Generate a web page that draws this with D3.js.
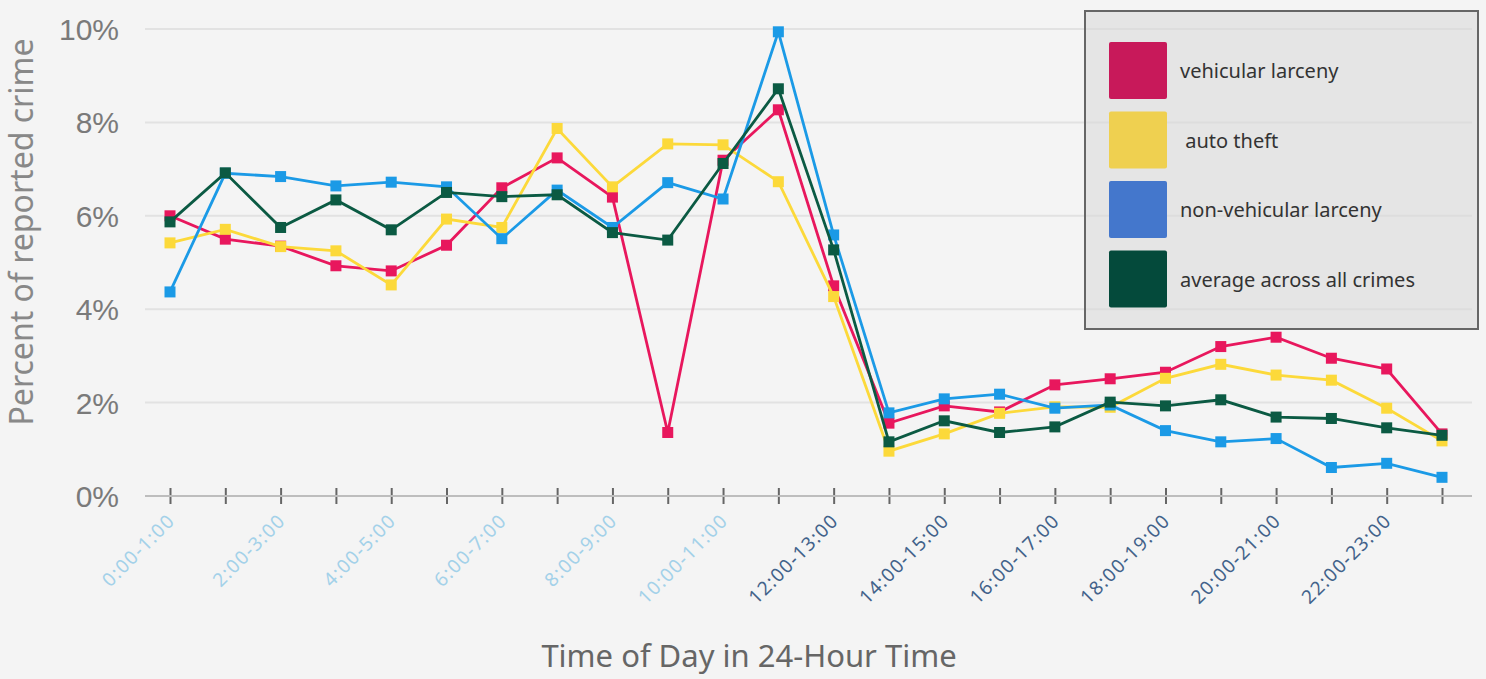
<!DOCTYPE html>
<html>
<head>
<meta charset="utf-8">
<script src="https://cdn.jsdelivr.net/npm/d3@7"></script>
<style>
  html, body { margin: 0; padding: 0; background: #f4f4f4; }
  svg { display: block; font-family: "Noto Sans", "Open Sans", sans-serif; }
</style>
</head>
<body>
<div id="chart"></div>
<script>
// hour slots, one per tick
const hours = d3.range(24).map((h) => h + ":00-" + (h + 1) + ":00");
const labelHours = hours.filter((d, i) => i % 2 === 0);
const yTicks = [0, 2, 4, 6, 8, 10];

const vehicularLarceny = [6.0, 5.5, 5.35, 4.93, 4.82, 5.37, 6.6, 7.24, 6.4, 1.36, 7.19, 8.27,
  4.5, 1.56, 1.93, 1.8, 2.38, 2.51, 2.65, 3.2, 3.4, 2.95, 2.72, 1.33];
const autoTheft = [5.42, 5.71, 5.34, 5.25, 4.52, 5.93, 5.75, 7.87, 6.62, 7.54, 7.52, 6.73,
  4.27, 0.96, 1.33, 1.77, 1.91, 1.9, 2.52, 2.82, 2.59, 2.48, 1.88, 1.18];
const nonVehicularLarceny = [4.37, 6.91, 6.84, 6.64, 6.72, 6.62, 5.51, 6.55, 5.75, 6.71, 6.36, 9.94,
  5.59, 1.78, 2.08, 2.18, 1.88, 1.95, 1.4, 1.16, 1.23, 0.61, 0.7, 0.4];
const averageAllCrimes = [5.87, 6.92, 5.75, 6.34, 5.7, 6.5, 6.41, 6.45, 5.64, 5.48, 7.12, 8.72,
  5.27, 1.16, 1.61, 1.36, 1.48, 2.01, 1.93, 2.06, 1.69, 1.66, 1.46, 1.3];

const seriesNames = ["vehicular larceny", " auto theft", "non-vehicular larceny", "average across all crimes"];
const lineColors = ["#e8175d", "#fcd93a", "#1b9ae6", "#0b5a43"];
const swatchColors = ["#c8195a", "#efd050", "#4477cc", "#044a3b"];

const width = 1486;
const height = 679;

const series = [vehicularLarceny, autoTheft, nonVehicularLarceny, averageAllCrimes];

const svg = d3.select("#chart").append("svg")
  .attr("width", width)
  .attr("height", height);

svg.append("rect").attr("width", width).attr("height", height).attr("fill", "#f4f4f4");

const x = d3.scalePoint().domain(hours).range([170, 1442]);
const y = d3.scaleLinear().domain([0, 10]).range([496, 29]);

// gridlines
svg.append("g")
  .selectAll("line")
  .data(yTicks.filter((d) => d > 0))
  .join("line")
  .attr("x1", 145)
  .attr("x2", 1472)
  .attr("y1", (d) => y(d))
  .attr("y2", (d) => y(d))
  .attr("stroke", "#e2e2e2")
  .attr("stroke-width", 2);

// y axis labels
const yAxis = svg.append("g")
  .attr("transform", "translate(119,0)")
  .call(d3.axisLeft(y).tickValues(yTicks).tickFormat((d) => d + "%").tickSize(0).tickPadding(0));
yAxis.select(".domain").remove();
yAxis.selectAll("text")
  .attr("fill", "#7a7a7a")
  .style("font-size", "30px")
  .attr("dy", "0.35em");

// x axis
const xAxis = svg.append("g")
  .attr("transform", "translate(0,496)")
  .call(d3.axisBottom(x).tickSize(0).tickFormat(""));
xAxis.select(".domain").remove();
xAxis.append("line")
  .attr("x1", 145)
  .attr("x2", 1472)
  .attr("stroke", "#bdbdbd")
  .attr("stroke-width", 2);
xAxis.selectAll(".tick").append("line")
  .attr("y1", -8)
  .attr("y2", 8)
  .attr("stroke", "#666")
  .attr("stroke-width", 2);

svg.append("g")
  .selectAll("text")
  .data(labelHours)
  .join("text")
  .attr("transform", (d) => "translate(" + (x(d) + 6) + ",522) rotate(-45)")
  .attr("text-anchor", "end")
  .attr("fill", (d, i) => (i < 6 ? "#a3d1e9" : "#42628a"))
  .style("font-size", "19px")
  .style("letter-spacing", "1.3px")
  .text((d) => d);

// axis titles
svg.append("text")
  .attr("transform", "translate(33,232) rotate(-90)")
  .attr("text-anchor", "middle")
  .attr("fill", "#888")
  .style("font-size", "32px")
  .text("Percent of reported crime");

svg.append("text")
  .attr("x", 749)
  .attr("y", 667)
  .attr("text-anchor", "middle")
  .attr("fill", "#666")
  .style("font-size", "31px")
  .text("Time of Day in 24-Hour Time");

// lines and markers
const line = d3.line()
  .x((d, i) => x(hours[i]))
  .y((d) => y(d));

const lines = svg.append("g")
  .selectAll("g")
  .data(series)
  .join("g");

lines.append("path")
  .attr("d", line)
  .attr("fill", "none")
  .attr("stroke", (d, i) => lineColors[i])
  .attr("stroke-width", 2.8);

lines.selectAll("rect")
  .data((d, i) => d.map((v, j) => ({ v: v, j: j, c: lineColors[i] })))
  .join("rect")
  .attr("x", (d) => x(hours[d.j]) - 5.5)
  .attr("y", (d) => y(d.v) - 5.5)
  .attr("width", 11)
  .attr("height", 11)
  .attr("fill", (d) => d.c);

// legend
const legend = svg.append("g");
legend.append("rect")
  .attr("x", 1085)
  .attr("y", 11)
  .attr("width", 393)
  .attr("height", 318)
  .attr("fill", "#dadada")
  .attr("fill-opacity", 0.6)
  .attr("stroke", "#666")
  .attr("stroke-width", 2);

const items = legend.selectAll("g")
  .data(seriesNames)
  .join("g")
  .attr("transform", (d, i) => "translate(1109," + (42 + i * 69.5) + ")");

items.append("rect")
  .attr("width", 58)
  .attr("height", 57)
  .attr("rx", 2)
  .attr("fill", (d, i) => swatchColors[i]);

items.append("text")
  .attr("x", 71)
  .attr("y", 29)
  .attr("dy", "0.35em")
  .attr("fill", "#333")
  .style("font-size", "20px")
  .style("white-space", "pre")
  .attr("xml:space", "preserve")
  .text((d) => d);
</script>
</body>
</html>
